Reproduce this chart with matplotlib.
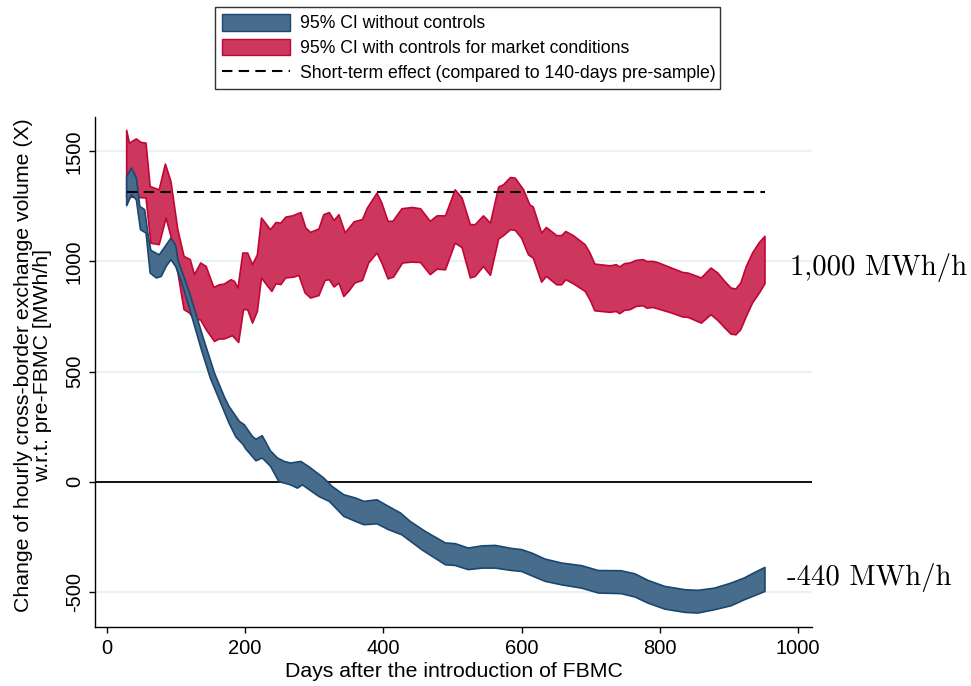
import numpy as np
import matplotlib
matplotlib.use('Agg')
import matplotlib.pyplot as plt
from matplotlib.patches import Patch
from matplotlib.lines import Line2D

plt.rcParams['font.family'] = ['Liberation Sans', 'DejaVu Sans']
plt.rcParams['axes.unicode_minus'] = False

# ---------------- data ----------------
# 95% CI with controls for market conditions (red band)
red_hi_days = [29, 33, 43, 50, 57, 63, 76, 85, 93, 103, 112, 121, 127, 136, 144, 155, 163, 170, 180, 185,
               190, 197, 204, 211, 218, 224, 237, 245, 252, 259, 269, 281, 288, 295, 307, 314, 322, 329, 336, 345,
               358, 370, 377, 391, 398, 407, 414, 427, 442, 454, 468, 478, 490, 504, 514, 526, 533, 545, 555, 567,
               574, 584, 591, 603, 612, 617, 629, 636, 651, 658, 664, 675, 692, 699, 706, 728, 737, 742, 749, 757,
               766, 776, 781, 790, 797, 817, 833, 841, 860, 874, 884, 894, 903, 910, 917, 925, 934, 944, 952]
red_hi = [1595, 1537, 1556, 1540, 1537, 1340, 1325, 1442, 1363, 1144, 1023, 1008, 940, 993, 977, 882, 894, 897, 917, 909,
          879, 1038, 1038, 985, 1030, 1197, 1144, 1177, 1174, 1201, 1207, 1222, 1152, 1132, 1147, 1212, 1222, 1186, 1212, 1130,
          1180, 1190, 1242, 1310, 1265, 1182, 1182, 1239, 1245, 1239, 1182, 1207, 1207, 1325, 1288, 1167, 1167, 1207, 1174, 1338,
          1348, 1381, 1378, 1325, 1257, 1247, 1129, 1154, 1117, 1117, 1136, 1117, 1076, 1038, 988, 980, 985, 975, 990, 993,
          1005, 1008, 1000, 1000, 995, 970, 950, 947, 925, 970, 947, 909, 879, 875, 902, 977, 1038, 1086, 1114]

red_lo_days = [29, 38, 57, 64, 76, 86, 93, 103, 112, 120, 127, 136, 144, 156, 163, 170, 182, 191, 198, 204,
               211, 218, 224, 233, 239, 245, 252, 259, 271, 278, 287, 295, 307, 316, 322, 329, 336, 343, 350, 359,
               370, 379, 391, 398, 407, 415, 428, 442, 454, 468, 478, 490, 504, 514, 526, 533, 545, 555, 567, 574,
               584, 591, 600, 610, 617, 629, 636, 651, 658, 664, 675, 692, 699, 706, 728, 737, 742, 749, 757, 766,
               776, 781, 790, 797, 817, 833, 841, 860, 874, 884, 894, 903, 910, 917, 925, 934, 944, 952]
red_lo = [1290, 1292, 1288, 1083, 1076, 1197, 1114, 950, 781, 766, 735, 735, 690, 637, 648, 648, 663, 632, 781, 781,
          720, 773, 925, 887, 864, 899, 895, 925, 929, 937, 857, 834, 845, 914, 917, 884, 902, 841, 864, 902,
          914, 993, 1038, 993, 921, 929, 993, 997, 995, 940, 965, 962, 1083, 1063, 925, 932, 977, 937, 1102, 1117,
          1144, 1141, 1106, 1030, 1015, 906, 932, 894, 894, 917, 899, 864, 826, 776, 769, 773, 763, 778, 781, 796,
          799, 788, 791, 785, 766, 748, 746, 720, 758, 732, 698, 670, 667, 690, 750, 811, 857, 899]

# 95% CI without controls (blue band)
blue_hi_days = [29, 36, 43, 48, 55, 60, 64, 76, 84, 93, 100, 103, 120, 139, 156, 170, 177, 192, 199, 211,
                216, 225, 237, 247, 257, 266, 281, 293, 314, 326, 343, 360, 372, 391, 403, 425, 439, 461, 490, 504,
                523, 543, 562, 586, 600, 615, 634, 658, 687, 711, 744, 764, 783, 807, 836, 855, 879, 903, 922, 937,
                952]
blue_hi = [1386, 1424, 1379, 1250, 1235, 1121, 1050, 1030, 1065, 1106, 1072, 1008, 857, 660, 493, 387, 342, 274, 259, 205,
           193, 209, 140, 108, 92, 85, 92, 67, 17, -21, -59, -74, -89, -82, -104, -142, -180, -226, -278, -281,
           -301, -291, -289, -303, -308, -324, -351, -369, -381, -403, -404, -418, -448, -475, -490, -493, -483, -460, -437, -412,
           -389]

blue_lo_days = [29, 36, 43, 49, 57, 63, 72, 79, 86, 93, 100, 110, 120, 137, 150, 163, 177, 187, 197, 201,
                216, 225, 237, 249, 266, 276, 283, 307, 322, 343, 360, 372, 391, 408, 427, 456, 490, 504, 523, 543,
                562, 586, 600, 615, 634, 658, 687, 711, 744, 764, 783, 807, 836, 855, 879, 903, 922, 937, 952]
blue_lo = [1253, 1303, 1280, 1144, 1129, 947, 925, 932, 977, 1008, 977, 890, 785, 600, 470, 372, 266, 203, 170, 150,
           95, 108, 70, 1, -14, -29, -14, -67, -89, -157, -180, -195, -191, -218, -241, -309, -377, -380, -399, -392,
           -392, -403, -407, -427, -452, -468, -483, -505, -508, -523, -551, -578, -593, -596, -581, -563, -536, -517, -498]

short_term_effect = 1316
x_ticks = [0, 200, 400, 600, 800, 1000]
y_ticks = [-500, 0, 500, 1000, 1500]
legend_labels = ["95% CI without controls",
                 "95% CI with controls for market conditions",
                 "Short-term effect (compared to 140-days pre-sample)"]
annot_with = "1,000 MWh/h"
annot_without = "-440 MWh/h"

# ---------------- styling ----------------
blue_fill, blue_edge = '#486c8c', '#1a476f'
red_fill, red_edge = '#cd375d', '#c10534'
grid_col = '#eaf2f3'

fig = plt.figure(figsize=(9.71, 6.86), dpi=100)
L, R, B, T = 95 / 971, 812 / 971, 1 - 626.7 / 686, 1 - 116.7 / 686
ax = fig.add_axes([L, B, R - L, T - B])

ax.set_xlim(-16.8, 1020)
ax.set_ylim(-658, 1657)

ax.set_yticks(y_ticks)
ax.set_xticks(x_ticks)
ax.yaxis.grid(True, color=grid_col, lw=1.6)
ax.set_axisbelow(True)
ax.axhline(0, color='black', lw=1.3, zorder=1.5)

def band(ax, hx, hy, lx, ly, fc, ec):
    xs = np.concatenate([np.asarray(hx, float), np.asarray(lx, float)[::-1]])
    ys = np.concatenate([np.asarray(hy, float), np.asarray(ly, float)[::-1]])
    ax.fill(xs, ys, facecolor=fc, edgecolor=ec, lw=1.2, zorder=2, joinstyle='round')

band(ax, red_hi_days, red_hi, red_lo_days, red_lo, red_fill, red_edge)
band(ax, blue_hi_days, blue_hi, blue_lo_days, blue_lo, blue_fill, blue_edge)

ax.plot([red_hi_days[0], red_hi_days[-1]], [short_term_effect, short_term_effect],
        color='black', lw=1.5, ls=(0, (5, 3)), zorder=3)

for s in ['top', 'right']:
    ax.spines[s].set_visible(False)
for s in ['left', 'bottom']:
    ax.spines[s].set_linewidth(1.0)

ax.tick_params(axis='both', direction='out', length=4, width=1, labelsize=14.5, pad=4)
ax.tick_params(axis='x', pad=5)
plt.setp(ax.get_yticklabels(), rotation=90, va='center', ha='right')

ax.set_ylabel("Change of hourly cross-border exchange volume (X)\nw.r.t. pre-FBMC [MWh/h]",
              fontsize=15.3, linespacing=1.0, multialignment='center')
ax.yaxis.set_label_coords((52 - 95) / 717, 0.512)
ax.set_xlabel("Days after the introduction of FBMC", fontsize=15.3)
ax.xaxis.set_label_coords(0.5, (626.7 - 662) / 510)

handles = [Patch(facecolor=blue_fill, edgecolor=blue_edge, lw=1.0),
           Patch(facecolor=red_fill, edgecolor=red_edge, lw=1.0),
           Line2D([], [], color='black', lw=1.5, ls=(0, (5, 3)))]
leg = fig.legend(handles, legend_labels, loc='upper left',
                 bbox_to_anchor=(215 / 971, 1 - 89 / 686, 505 / 971, 82 / 686),
                 bbox_transform=fig.transFigure, mode='expand',
                 frameon=True, fancybox=False, fontsize=12.7,
                 handlelength=3.86, handleheight=1.08, handletextpad=0.55,
                 labelspacing=0.36, borderpad=0.4, borderaxespad=0)
leg.get_frame().set_edgecolor('black')
leg.get_frame().set_linewidth(1.0)

fig.text(790 / 971, 1 - 268 / 686, annot_with, fontfamily='cmr10', fontsize=20.7,
         ha='left', va='center')
fig.text(787 / 971, 1 - 577 / 686, annot_without, fontfamily='cmr10', fontsize=20.7,
         ha='left', va='center')

fig.savefig('out.png', dpi=100)
